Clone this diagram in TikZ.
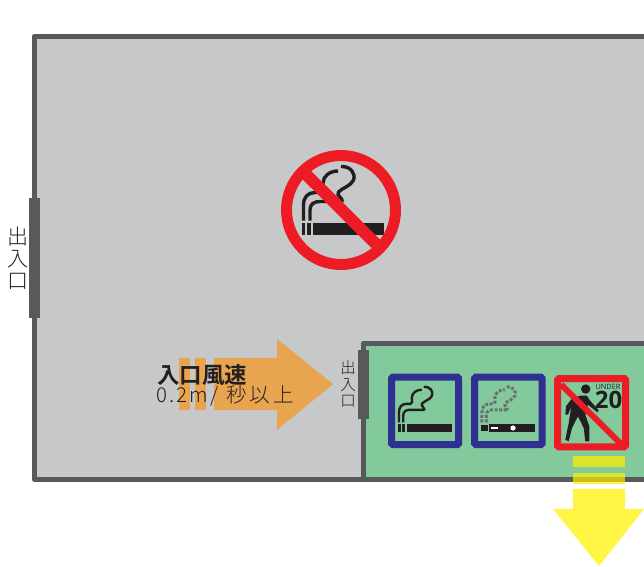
\documentclass[tikz,border=0pt]{standalone}
\usepackage{fontspec}
\setmainfont[BoldFont={Noto Sans CJK JP Bold}]{Noto Sans CJK JP Light}
\newfontfamily\numfont{Open Sans}
\definecolor{wallc}{HTML}{58595B}
\definecolor{roomc}{HTML}{C7C8CA}
\definecolor{greenc}{HTML}{82CA9C}
\definecolor{orangec}{HTML}{E8A44F}
\definecolor{redc}{HTML}{ED1C24}
\definecolor{bluec}{HTML}{2E3192}
\definecolor{blackc}{HTML}{231F20}
\definecolor{yela}{HTML}{FFF544}
\definecolor{yelb}{HTML}{D8E52C}
\definecolor{yelc}{HTML}{CCC020}
\definecolor{vapec}{HTML}{6D6E71}
\newcommand{\smokepath}[1]{%
  \draw[#1] (1.5,-2.5) -- (1.5,-18) .. controls (1.5,-26) and (6,-30.5) .. (13,-30.5) -- (19,-30.5)
     .. controls (22.5,-31) and (21,-35) .. (21,-40) .. controls (21,-47) and (28,-52) .. (36,-52);
  \draw[#1] (39,-56.5) .. controls (48,-57) and (54,-50) .. (51.5,-43)
     .. controls (49,-37) and (40,-35) .. (36.5,-31) .. controls (34,-27) and (40.5,-26) .. (40.5,-21);
  \draw[#1] (8,-2.5) -- (8,-13) .. controls (8,-19) and (12,-21.5) .. (18,-21.5) -- (40.5,-21.5);
}
\tikzset{
  x=1pt,y=-1pt,
  wall/.style={draw=wallc,line width=5pt,line join=round,line cap=round},
  door/.style={fill=wallc,draw=none},
  signtext/.style={text=blackc,align=center,inner sep=0pt,font=\fontsize{#1}{#1}\selectfont},
  bluesign/.style={draw=bluec,line width=7pt,rounded corners=1.5pt,fill=greenc},
  redsign/.style={draw=redc,line width=7pt,rounded corners=1.5pt,fill=greenc},
  orangepiece/.style={fill=orangec,draw=none},
  blk/.style={fill=blackc,draw=none}
}
\begin{document}
\begin{tikzpicture}
\useasboundingbox (0,0) rectangle (644,566);
\fill[white] (0,0) rectangle (644,566);
% main room
\path[fill=roomc] (34,36.5) rectangle (644,479);
\path[fill=greenc] (363,343.5) rectangle (644,479);
\draw[wall] (646,36.5) -- (34,36.5) -- (34,479) -- (646,479);
\draw[wall] (646,343.5) -- (363,343.5) -- (363,479);
% doors
\coordinate (d1a) at (29,198); \coordinate (d1b) at (40,318);
\coordinate (d2a) at (358,350); \coordinate (d2b) at (369,419);
\fill[door] (d1a) rectangle (d1b);
\fill[door] (d2a) rectangle (d2b);
\node[signtext=21] (doorleft) at (17.5,258) {出\\[1pt]入\\[1pt]口};
\node[signtext=15.5] (doorright) at (348,384) {出\\[1pt]入\\[1pt]口};
% orange arrow
\fill[orangepiece] (179,358) rectangle (190,410);
\fill[orangepiece] (195,358) rectangle (206,410);
\fill[orangepiece] (214,358) -- (277,358) -- (277,339) -- (333,384) -- (277,430) -- (277,410) -- (214,410) -- cycle;
\node[anchor=west,inner sep=0pt,text=blackc,font=\bfseries\fontsize{22.5}{22.5}\selectfont] (speedA) at (157,375) {入口風速};
\node[anchor=west,inner sep=0pt,text=blackc,font=\fontsize{20.5}{20.5}\selectfont] (speedB) at (156.5,396) {0\hspace{2pt}.\hspace{2pt}2\hspace{1.5pt}m\hspace{2.5pt}/\hspace{8pt}秒\hspace{3pt}以\hspace{3pt}上};
% big no smoking sign
\begin{scope}[shift={(302,223)}]
  \smokepath{blackc,line width=3.4pt}
  \fill[blk] (0,0) rectangle (3.3,12);
  \fill[blk] (5.3,0) rectangle (8.7,12);
  \fill[blk] (10.7,0) rectangle (82,12);
\end{scope}
\draw[redc,line width=11pt] (341,210) circle (54.5);
\draw[redc,line width=12pt] (306.7,175) -- (376,244);
% smoking sign
\draw[bluesign] (391.5,377) rectangle (458.7,444.7);
\begin{scope}[shift={(398,424)},scale=0.66]
  \smokepath{blackc,line width=2.4pt}
  \fill[blk] (0,0) rectangle (4,12);
  \fill[blk] (6,0) rectangle (11,12);
  \fill[blk] (13,0) rectangle (82,12);
\end{scope}
% vape sign
\draw[bluesign] (474.5,377) rectangle (542.2,444.7);
\begin{scope}[shift={(481,424)},scale=0.66]
  \smokepath{vapec,line width=3pt,dash pattern=on 3pt off 1.6pt}
\end{scope}
\fill[blk] (481,425) rectangle (487.5,431);
\fill[blk] (488.5,424) rectangle (535,432);
\fill[white] (490.5,427) rectangle (498,429.2);
\fill[white] (513,428) circle (2.6);
% under 20 sign
\draw[redsign] (557.5,378.5) rectangle (625.6,446.8);
\node[inner sep=0pt,text=blackc,font=\numfont\fontsize{7.3}{7.3}\selectfont] (under) at (608,387) {UNDER};
\node[inner sep=0pt,text=blackc,font=\numfont\bfseries\fontsize{24}{24}\selectfont] (twenty) at (608.5,400) {20};
\fill[blk] (585.7,389) circle (4.7);
\fill[blk] (580.3,395.7) -- (587,395.7) -- (589.3,399.7) -- (598.7,410.3) -- (597.3,412.3) -- (588,404.7)
  -- (585.3,414.7) -- (589.3,426.3) -- (589.3,441.3) -- (585.3,441.3) -- (583.7,428) -- (578,416.3)
  -- (572,428) -- (568.7,441.3) -- (565.3,439.7) -- (568.7,423) -- (571.3,406.3)
  -- (568,414.7) -- (565.3,414.7) -- (566,406.3) -- (572,398.3) -- cycle;
\draw[redc,line width=6pt] (561,384.5) -- (621,444);
% yellow arrow
\fill[yelb] (573,456) rectangle (625,467);
\fill[yelb] (573,473) rectangle (625,477);
\fill[yelc] (573,477) rectangle (625,482);
\fill[yela] (573,482) rectangle (625,484);
\fill[yela] (573,489) -- (625,489) -- (625,509) -- (644,509) -- (599,566) -- (553,509) -- (573,509) -- cycle;
\end{tikzpicture}
\end{document}
